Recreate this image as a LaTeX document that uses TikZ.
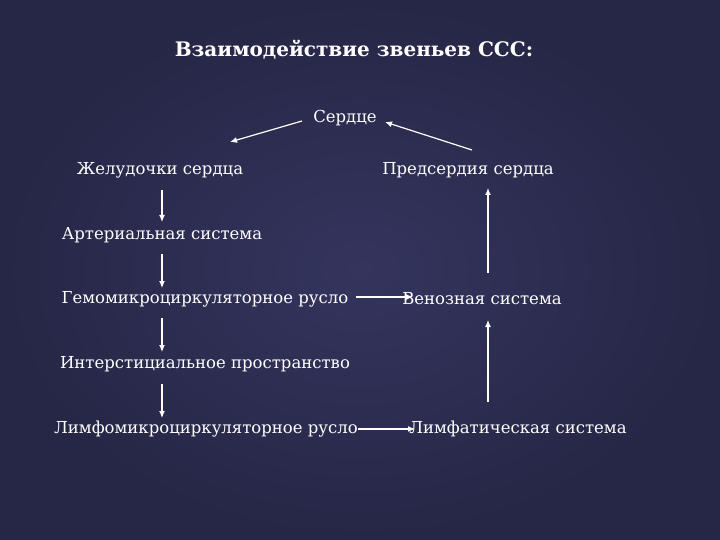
\documentclass[tikz,border=0pt]{standalone}
\usepackage{fontspec}
\usetikzlibrary{arrows.meta}
\setmainfont{DejaVu Serif}
\begin{document}
\begin{tikzpicture}[x=1pt,y=-1pt,
  lbl/.style={text=white,font=\fontsize{16.5}{19}\selectfont,inner sep=1pt},
  arr/.style={draw=white,line width=1.2pt,-{Latex[length=7pt,width=6pt]}}]
\shade[inner color={rgb,255:red,52;green,53;blue,94},outer color={rgb,255:red,38;green,38;blue,70}] (0,0) rectangle (720,540);
\useasboundingbox (0,0) rectangle (720,540);
\node[text=white,font=\fontsize{20}{24}\selectfont\bfseries] (t) at (354,50) {Взаимодействие звеньев ССС:};
\node[lbl] (s) at (345,118) {Сердце};
\node[lbl] (zh) at (160,170) {Желудочки сердца};
\node[lbl] (pr) at (468,170) {Предсердия сердца};
\node[lbl] (ar) at (162,235) {Артериальная система};
\node[lbl] (gm) at (205,299) {Гемомикроциркуляторное русло};
\node[lbl] (ve) at (482,299) {Венозная система};
\node[lbl] (in) at (205,364) {Интерстициальное пространство};
\node[lbl] (lm) at (206,429) {Лимфомикроциркуляторное русло};
\node[lbl] (ls) at (518,429) {Лимфатическая система};
\coordinate (a1) at (302,121); \coordinate (a2) at (230,142);
\coordinate (b1) at (472,150); \coordinate (b2) at (385,122);
\draw[arr] (a1) -- (a2);
\draw[arr] (b1) -- (b2);
\draw[arr] (162,190) -- (162,222);
\draw[arr] (162,254) -- (162,288);
\draw[arr] (162,318) -- (162,352);
\draw[arr] (162,384) -- (162,418);
\draw[arr] (488,273) -- (488,188);
\draw[arr] (488,402) -- (488,320);
\draw[arr] (356,297) -- (413,297);
\draw[arr] (358,429) -- (415,429);
\end{tikzpicture}
\end{document}
